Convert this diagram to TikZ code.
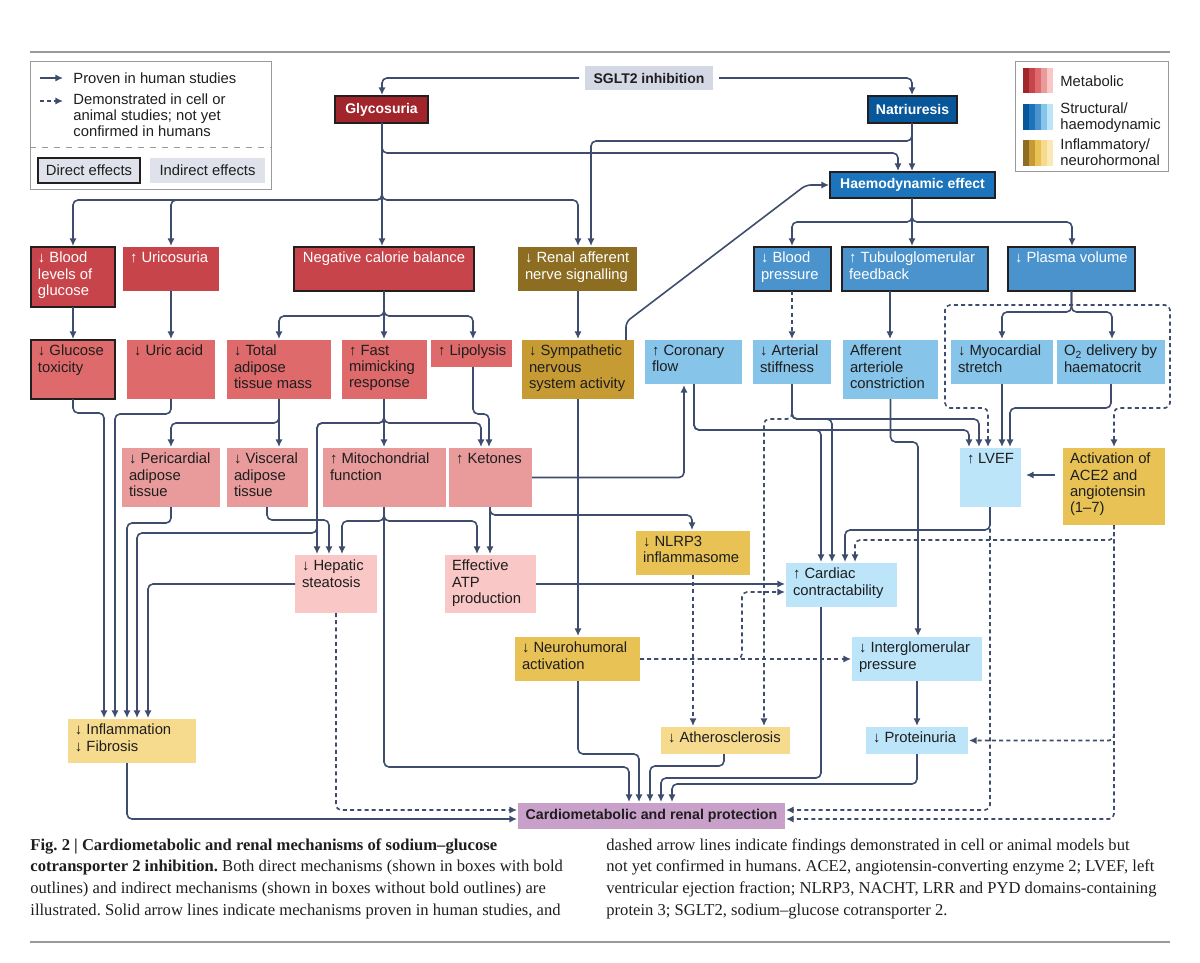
\documentclass[tikz,border=0pt]{standalone}
\usepackage{fontspec}
\setmainfont{Liberation Sans}
\newfontfamily\capfont{Liberation Serif}
\usetikzlibrary{arrows.meta}
\frenchspacing

\definecolor{inkcol}{HTML}{1E1E1E}
\definecolor{arrcol}{HTML}{3E4C6D}
\definecolor{bordercol}{HTML}{231F20}
\definecolor{rulegray}{HTML}{9A9A9A}
\definecolor{leggray}{HTML}{DFE2EA}
\definecolor{sgltcol}{HTML}{D3D8E4}
\definecolor{protcol}{HTML}{C9A0CA}
\definecolor{metA}{HTML}{A2252B}
\definecolor{metB}{HTML}{C8444B}
\definecolor{metC}{HTML}{DF6A6B}
\definecolor{metD}{HTML}{E99B9C}
\definecolor{metE}{HTML}{F9C7C5}
\definecolor{strA}{HTML}{07579A}
\definecolor{strB}{HTML}{1C75BC}
\definecolor{strC}{HTML}{4A93CD}
\definecolor{strD}{HTML}{87C4EA}
\definecolor{strE}{HTML}{BCE5F9}
\definecolor{infA}{HTML}{8C6D22}
\definecolor{infB}{HTML}{C69B34}
\definecolor{infC}{HTML}{E8C255}
\definecolor{infD}{HTML}{F6DA8E}
\definecolor{infE}{HTML}{FBE9B5}

% box from pixel corners: [style]{name}{x1}{y1}{x2}{y2}{text}
\newcommand{\effbox}[7][]{%
  \pgfmathsetlengthmacro{\boxw}{(#5-#3)*0.5pt}%
  \pgfmathsetlengthmacro{\boxh}{(#6-#4)*0.5pt}%
  \pgfmathsetlengthmacro{\parw}{(#5-#3)*0.5pt-7pt}%
  \pgfmathsetlengthmacro{\parh}{(#6-#4)*0.5pt-5pt}%
  \node[cell, #1, minimum width=\boxw, minimum height=\boxh] (#2) at (#3,#4)
    {\parbox[c][\parh][t]{\parw}{\raggedright #7}};%
}

\begin{document}
\begin{tikzpicture}[x=0.5pt, y=-0.5pt,
    cell/.style={anchor=north west, inner sep=0pt, outer sep=0pt, text=inkcol,
      font=\fontsize{7.4}{8.2}\selectfont},
    direct/.style={draw=bordercol, line width=1pt},
    light/.style={text=white},
    hub/.style={inner sep=0pt, outer sep=0pt, font=\fontsize{7}{8}\selectfont\bfseries},
    arr/.style={draw=arrcol, line width=0.8pt, rounded corners=2.5pt,
      -{Latex[length=3.8pt,width=3.6pt]}, shorten >=0.5pt},
    dasharr/.style={arr, dash pattern=on 2pt off 1.6pt},
    bothtips/.style={{Latex[length=3.8pt,width=3.6pt]}-{Latex[length=3.8pt,width=3.6pt]}, shorten <=0.5pt},
    legtext/.style={font=\fontsize{7.4}{8}\selectfont, text=inkcol, align=left, inner sep=0pt},
    legline/.style={draw=rulegray, line width=0.5pt}
  ]
  \useasboundingbox (0,0) rectangle (1200,963);

  % Linhas de separacao
  \draw[rulegray, line width=0.6pt] (30,52) -- (1170,52);
  \draw[rulegray, line width=0.6pt] (30,942) -- (1170,942);

  % Legenda (setas e tipos de efeito)
  \draw[legline] (30,62) rectangle (271,190);
  \draw[legline, dashed] (30,148) -- (271,148);
  \coordinate (ls0) at (40,78);  \coordinate (ls1) at (64,78);
  \coordinate (ld0) at (40,101); \coordinate (ld1) at (64,101);
  \draw[arr] (ls0) -- (ls1);
  \draw[dasharr] (ld0) -- (ld1);
  \node[legtext, anchor=west] (legsolid) at (73,78) {Proven in human studies};
  \node[legtext, anchor=north west] (legdash) at (73,93) {Demonstrated in cell or\\animal studies; not yet\\confirmed in humans};
  \node[legtext, direct, fill=leggray, minimum width=51pt, minimum height=12.5pt] (legdirect) at (89,170.5) {Direct effects};
  \node[legtext, fill=leggray, minimum width=57.5pt, minimum height=12.5pt] (legindirect) at (207.5,170.5) {Indirect effects};

  % Legenda (cores)
  \draw[legline] (1015,62) rectangle (1168,172);
  \foreach \c [count=\i from 0] in {metA,metB,metC,metD,metE}
    \fill[\c] ({1023+\i*6},68) rectangle ({1029+\i*6},93);
  \foreach \c [count=\i from 0] in {strA,strB,strC,strD,strE}
    \fill[\c] ({1023+\i*6},104) rectangle ({1029+\i*6},130);
  \foreach \c [count=\i from 0] in {infA,infB,infC,infD,infE}
    \fill[\c] ({1023+\i*6},140) rectangle ({1029+\i*6},166);
  \node[legtext, anchor=west] (legmet) at (1060,81) {Metabolic};
  \node[legtext, anchor=north west] (legstr) at (1060,102) {Structural/\\haemodynamic};
  \node[legtext, anchor=north west] (leginf) at (1060,138) {Inflammatory/\\neurohormonal};

  % Topo
  \node[hub, fill=sgltcol, text=inkcol, minimum width=64pt, minimum height=12pt] (sglt) at (649,78) {SGLT2 inhibition};
  \node[hub, direct, fill=metA, text=white, minimum width=46.5pt, minimum height=13.5pt] (glyc) at (381.5,109.5) {Glycosuria};
  \node[hub, direct, fill=strA, text=white, minimum width=44.5pt, minimum height=13.5pt] (natr) at (912.5,109.5) {Natriuresis};
  \node[hub, direct, fill=strB, text=white, minimum width=82.5pt, minimum height=13pt] (haem) at (912.5,185) {Haemodynamic effect};

  % Efeitos directos
  \effbox[direct, light, fill=metB]{blood}{31}{247}{115}{307}{↓~Blood\\levels of\\glucose}
  \effbox[light, fill=metB]{uric}{123}{247}{219}{291}{↑~Uricosuria}
  \effbox[direct, light, fill=metB]{negcal}{294}{247}{474}{291}{\centering Negative calorie balance}
  \effbox[light, fill=infA]{renal}{518}{247}{637}{291}{↓~Renal afferent\\nerve signalling}
  \effbox[direct, light, fill=strC]{bp}{754}{247}{831}{291}{↓~Blood\\pressure}
  \effbox[direct, light, fill=strC]{tgf}{842}{247}{988}{291}{↑~Tubuloglomerular\\feedback}
  \effbox[direct, light, fill=strC]{plasma}{1008}{247}{1135}{291}{↓~Plasma volume}

  % Terceira fila
  \effbox[direct, fill=metC]{gtox}{31}{340}{115}{399}{↓~Glucose\\toxicity}
  \effbox[fill=metC]{uacid}{127}{340}{215}{399}{↓~Uric acid}
  \effbox[fill=metC]{tadip}{227}{340}{331}{399}{↓~Total\\adipose\\tissue mass}
  \effbox[fill=metC]{fast}{342}{340}{427}{399}{↑~Fast\\mimicking\\response}
  \effbox[fill=metC]{lipo}{431}{340}{512}{367}{\mbox{↑~Lipolysis}}
  \effbox[fill=infB]{symp}{522}{340}{634}{399}{↓~Sympathetic\\nervous\\system activity}
  \effbox[fill=strD]{coron}{645}{340}{742}{384}{↑~Coronary\\flow}
  \effbox[fill=strD]{art}{753}{340}{831}{384}{↓~Arterial\\stiffness}
  \effbox[fill=strD]{aff}{843}{340}{938}{399}{Afferent\\arteriole\\constriction}
  \effbox[fill=strD]{myo}{951}{340}{1053}{384}{↓~Myocardial\\stretch}
  \effbox[fill=strD]{otwo}{1057}{340}{1165}{384}{O\textsubscript{2} delivery by\\haematocrit}

  % Quarta fila
  \effbox[fill=metD]{peri}{122}{448}{220}{507}{↓~Pericardial\\adipose\\tissue}
  \effbox[fill=metD]{visc}{227}{448}{308}{507}{↓~Visceral\\adipose\\tissue}
  \effbox[fill=metD]{mito}{323}{448}{446}{507}{↑~Mitochondrial\\function}
  \effbox[fill=metD]{keto}{449}{448}{532}{507}{↑~Ketones}
  \effbox[fill=strE]{lvef}{960}{448}{1021}{507}{↑~LVEF}
  \effbox[fill=infC]{ace}{1063}{448}{1165}{525}{Activation of\\ACE2 and\\angiotensin\\(1–7)}

  % Efeitos a jusante
  \effbox[fill=metE]{hep}{295}{555}{377}{613}{↓~Hepatic\\steatosis}
  \effbox[fill=metE]{atp}{445}{555}{536}{613}{Effective\\ATP\\production}
  \effbox[fill=infC]{nlrp}{636}{531}{750}{575}{↓~NLRP3\\inflammasome}
  \effbox[fill=strE]{card}{786}{563}{897}{607}{↑~Cardiac\\contractability}
  \effbox[fill=infC]{neuro}{515}{637}{640}{681}{↓~Neurohumoral\\activation}
  \effbox[fill=strE]{iglom}{852}{637}{982}{681}{↓~Interglomerular\\pressure}
  \effbox[fill=infD]{infl}{68}{719}{196}{763}{↓~Inflammation\\↓~Fibrosis}
  \effbox[fill=infD]{ath}{661}{727}{790}{754}{↓~Atherosclerosis}
  \effbox[fill=strE]{prot}{866}{727}{968}{754}{↓~Proteinuria}
  \node[hub, fill=protcol, text=inkcol, font=\fontsize{7.1}{8}\selectfont\bfseries,
    minimum width=133.5pt, minimum height=13pt] (cardio) at (651.5,816) {Cardiometabolic and renal protection};

  % SGLT2 -> glicosuria, natriurese
  \draw[arr, shorten <=3pt] (sglt.west) -| (382,0 |- glyc.north);
  \draw[arr, shorten <=3pt] (sglt.east) -| (912,0 |- natr.north);

  % Glicosuria
  \draw[arr] (382,0 |- glyc.south) -- (382,0 |- negcal.north);
  \draw[arr] (382,0 |- glyc.south) |- (898,153) -- (898,0 |- haem.north);
  \draw[arr] (382,0 |- glyc.south) |- (73,200) -- (73,0 |- blood.north);
  \draw[arr] (382,0 |- glyc.south) |- (171,200) -- (171,0 |- uric.north);
  \draw[arr] (382,0 |- glyc.south) |- (578,200) -- (578,0 |- renal.north);

  % Natriurese
  \draw[arr] (912,0 |- natr.south) -- (912,0 |- haem.north);
  \draw[arr] (912,0 |- natr.south) |- (591,141) -- (591,0 |- renal.north);

  % Segunda -> terceira fila
  \draw[arr] (blood.south) -- (gtox.north);
  \draw[arr] (uric.south) -- (uacid.north);
  \draw[arr] (negcal.south) |- (279,316) -- (279,0 |- tadip.north);
  \draw[arr] (negcal.south) -- (negcal.south |- fast.north);
  \draw[arr] (negcal.south) |- (473,316) -- (473,0 |- lipo.north);
  \draw[arr] (578,0 |- renal.south) -- (578,0 |- symp.north);
  \draw[arr] (912,0 |- haem.south) |- (792,222) -- (792,0 |- bp.north);
  \draw[arr] (912,0 |- haem.south) -- (912,0 |- tgf.north);
  \draw[arr] (912,0 |- haem.south) |- (1072,222) -- (1072,0 |- plasma.north);
  \draw[dasharr] (792,0 |- bp.south) -- (792,0 |- art.north);
  \draw[arr] (890,0 |- tgf.south) -- (890,0 |- aff.north);
  \draw[arr] (plasma.south) |- (1002,312) -- (1002,0 |- myo.north);
  \draw[arr] (plasma.south) |- (1112,312) -- (1112,0 |- otwo.north);

  % Caixa tracejada (miocardio e O2)
  \draw[dasharr, bothtips] (988,0 |- lvef.north) -- (988,408) -- (945,408) -- (945,305)
    -- (1170,305) -- (1170,408) -- (1114,408) -- (1114,0 |- ace.north);

  % Simpatico
  \draw[arr] (626,0 |- symp.north) -- (626,322) -- (806,185) -- (haem.west);
  \draw[arr] (symp.south) -- (symp.south |- neuro.north);

  % Fluxo coronario, rigidez arterial, arteriola aferente
  \draw[arr] (keto.east) -| (684,0 |- coron.south);
  \draw[arr] (694,0 |- coron.south) |- (969,430) -- (969,0 |- lvef.north);
  \draw[arr] (694,0 |- coron.south) |- (821,430) -- (821,0 |- card.north);
  \draw[arr] (792,0 |- art.south) |- (979,419) -- (979,0 |- lvef.north);
  \draw[arr] (792,0 |- art.south) |- (832,419) -- (832,0 |- card.north);
  \draw[dasharr] (792,0 |- art.south) |- (764,419) -- (764,0 |- ath.north);
  \draw[arr] (aff.south) |- (918,442) -- (918,0 |- iglom.north);
  \draw[arr] (myo.south) -- (myo.south |- lvef.north);
  \draw[arr] (otwo.south) |- (1010,408) -- (1010,0 |- lvef.north);

  % LVEF e ACE2
  \draw[arr, shorten <=4pt, shorten >=2.5pt] (ace.west |- 0,475) -- (lvef.east |- 0,475);
  \draw[arr] (990,0 |- lvef.south) |- (845,530) -- (845,0 |- card.north);
  \draw[dasharr] (1114,0 |- ace.south) |- (855,540) -- (855,0 |- card.north);
  \draw[dasharr] (1114,0 |- ace.south) |- (prot.east);
  \draw[dasharr] (1114,0 |- ace.south) |- (cardio.east |- 0,819);
  \draw[dasharr] (990,0 |- lvef.south) |- (cardio.east |- 0,810);

  % Tecido adiposo e metabolismo
  \draw[arr] (gtox.south) |- (104,413) -- (104,0 |- infl.north);
  \draw[arr] (uacid.south) |- (115,414) -- (115,0 |- infl.north);
  \draw[arr] (tadip.south) |- (171,423) -- (171,0 |- peri.north);
  \draw[arr] (tadip.south) -- (tadip.south |- visc.north);
  \draw[arr] (peri.south) |- (127,523) -- (127,0 |- infl.north);
  \draw[arr] (267,0 |- visc.south) |- (329,520) -- (329,0 |- hep.north);
  \draw[arr] (384,0 |- fast.south) -- (384,0 |- mito.north);
  \draw[arr] (384,0 |- fast.south) |- (317,423) -- (317,0 |- hep.north);
  \draw[arr] (384,0 |- fast.south) |- (481,423) -- (481,0 |- keto.north);
  \draw[arr] (384,0 |- fast.south) |- (317,423) -- (317,533) -| (137,0 |- infl.north);
  \draw[arr] (473,0 |- lipo.south) |- (489,414) -- (489,0 |- keto.north);
  \draw[arr] (384,0 |- mito.south) |- (342,521) -- (342,0 |- hep.north);
  \draw[arr] (384,0 |- mito.south) |- (477,521) -- (477,0 |- atp.north);
  \draw[arr] (384,0 |- mito.south) |- (629,767) -- (629,0 |- cardio.north);
  \draw[arr] (490,0 |- keto.south) -- (490,0 |- atp.north);
  \draw[arr] (490,0 |- keto.south) |- (692,515) -- (692,0 |- nlrp.north);
  \draw[arr] (hep.west) -| (148,0 |- infl.north);
  \draw[dasharr] (hep.south) |- (cardio.west |- 0,810);
  \draw[arr] (127,0 |- infl.south) |- (cardio.west |- 0,819);
  \draw[arr] (atp.east) -- (card.west |- atp.east);

  % Inflamacao e neuro-hormonal
  \draw[dasharr] (nlrp.south) -- (nlrp.south |- ath.north);
  \draw[dasharr] (neuro.east) -- (iglom.west);
  \draw[dasharr] (neuro.east) -| (742,592) -- (card.west |- 0,592);
  \draw[arr] (578,0 |- neuro.south) |- (639,754) -- (639,0 |- cardio.north);
  \draw[arr] (724,0 |- ath.south) |- (650,766) -- (650,0 |- cardio.north);
  \draw[arr] (821,0 |- card.south) |- (661,778) -- (661,0 |- cardio.north);
  \draw[arr] (iglom.south -| prot.north) -- (prot.north);
  \draw[arr] (prot.south) |- (672,784) -- (672,0 |- cardio.north);

  % Legenda da figura
  \node[anchor=north west, inner sep=0pt, align=left, text=inkcol,
    font=\capfont\fontsize{8.3}{10.85}\selectfont] (capleft) at (30,838)
    {\textbf{Fig. 2 | Cardiometabolic and renal mechanisms of sodium–glucose}\\
     \textbf{cotransporter 2 inhibition.} Both direct mechanisms (shown in boxes with bold\\
     outlines) and indirect mechanisms (shown in boxes without bold outlines) are\\
     illustrated. Solid arrow lines indicate mechanisms proven in human studies, and};
  \node[anchor=north west, inner sep=0pt, align=left, text=inkcol,
    font=\capfont\fontsize{8.3}{10.85}\selectfont] (capright) at (606,838)
    {dashed arrow lines indicate findings demonstrated in cell or animal models but\\
     not yet confirmed in humans. ACE2, angiotensin-converting enzyme 2; LVEF, left\\
     ventricular ejection fraction; NLRP3, NACHT, LRR and PYD domains-containing\\
     protein 3; SGLT2, sodium–glucose cotransporter 2.};
\end{tikzpicture}
\end{document}
